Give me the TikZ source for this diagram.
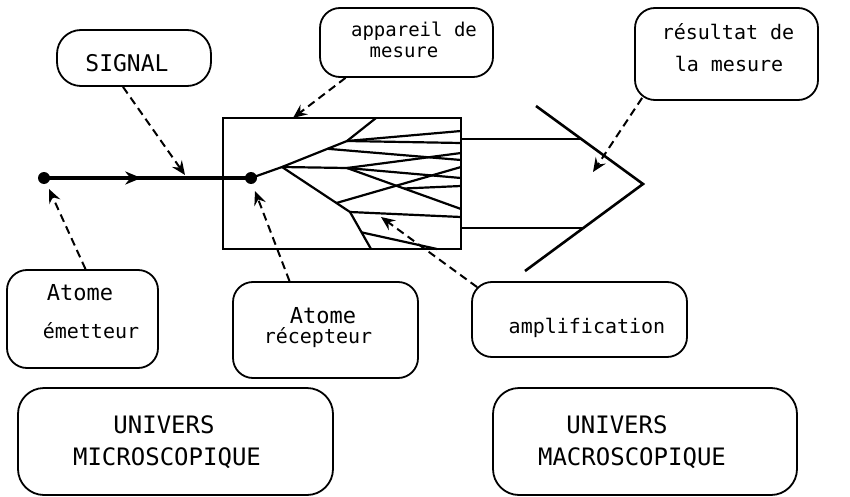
\documentclass[tikz,border=0pt]{standalone}
\usepackage{fontspec}
\setmonofont{DejaVu Sans Mono}
\usetikzlibrary{arrows.meta,decorations.markings,calc}
\begin{document}
\begin{tikzpicture}[x=1pt,y=-1pt,
  box/.style={draw,line width=1.8pt,rounded corners=20pt,inner sep=0pt},
  lc/.style={font=\ttfamily\fontsize{20}{20}\selectfont,anchor=base,inner sep=0pt},
  uc/.style={font=\ttfamily\fontsize{23}{23}\selectfont,anchor=base,inner sep=0pt},
  dsh/.style={line width=2pt,dash pattern=on 8pt off 5pt,-{Stealth[length=14pt,width=12pt,inset=5pt]}},
  trk/.style={line width=2.2pt},
  dotnode/.style={circle,fill,inner sep=0pt,minimum size=12pt},
]
\useasboundingbox (0,0) rectangle (850,497);

% label boxes
\node[box,rounded corners=24pt,minimum width=154pt,minimum height=56pt] (sig) at (134,58) {};
\node[box,minimum width=173pt,minimum height=69pt] (app) at (406.5,42.5) {};
\node[box,minimum width=183pt,minimum height=92pt] (res) at (726.5,54) {};
\node[box,minimum width=151pt,minimum height=98pt] (eme) at (82.5,319) {};
\node[box,minimum width=185pt,minimum height=96pt] (rec) at (325.5,330) {};
\node[box,minimum width=215pt,minimum height=75pt] (amp) at (579.5,319.5) {};
\node[box,rounded corners=26pt,minimum width=315pt,minimum height=107pt] (mic) at (175.5,441.5) {};
\node[box,rounded corners=26pt,minimum width=304pt,minimum height=107pt] (mac) at (645,441.5) {};

% texts
\node[uc] (tsig) at (127,72) {SIGNAL};
\node[lc,font=\ttfamily\fontsize{19}{19}\selectfont] (tapp1) at (414,37) {appareil de};
\node[lc,font=\ttfamily\fontsize{19}{19}\selectfont] (tapp2) at (404,58) {mesure};
\node[lc] (tres1) at (728,40) {résultat de};
\node[lc] (tres2) at (729,72) {la mesure};
\node[lc,font=\ttfamily\fontsize{22}{22}\selectfont] (teme1) at (80,300) {Atome};
\node[lc] (teme2) at (91,338) {émetteur};
\node[lc,font=\ttfamily\fontsize{22}{22}\selectfont] (trec1) at (323,323) {Atome};
\node[lc] (trec2) at (318,343) {récepteur};
\node[lc] (tamp) at (587,333) {amplification};
\node[uc,font=\ttfamily\fontsize{24}{24}\selectfont] (tmic1) at (164,433) {UNIVERS};
\node[uc,font=\ttfamily\fontsize{24}{24}\selectfont] (tmic2) at (167,465) {MICROSCOPIQUE};
\node[uc,font=\ttfamily\fontsize{24}{24}\selectfont] (tmac1) at (617,433) {UNIVERS};
\node[uc,font=\ttfamily\fontsize{24}{24}\selectfont] (tmac2) at (632,465) {MACROSCOPIQUE};

% measuring device
\node[draw,line width=2.2pt,minimum width=238pt,minimum height=131pt,inner sep=0pt] (dev) at (342,183.5) {};

% atoms and signal
\node[dotnode] (em) at (44,178) {};
\node[dotnode] (rc) at (251,178) {};
\draw[line width=3.8pt,postaction={decorate},
  decoration={markings,mark=at position 0.47 with {\arrow{Stealth[length=16pt,width=13pt,inset=5pt]}}}]
  (em.center) -- (rc.center);

% tracks
\coordinate (P1) at (282,167);
\coordinate (P3) at (347,141);
\coordinate (T) at (376,118);
\coordinate (B1) at (350,212);
\coordinate (B2) at (371,249);
\coordinate (A) at (347,168);
\coordinate (Q) at ($(P1)!0.7!(P3)$);
\coordinate (D) at ($(P1)!0.8!(B1)$);
\coordinate (R1) at (461,131);
\coordinate (R2) at (461,143);
\coordinate (R3) at (461,153);
\coordinate (R4) at (461,160);
\coordinate (R5) at (461,167);
\coordinate (R6) at (461,178);
\coordinate (R7) at (461,186);
\coordinate (R8) at (461,209);
\coordinate (R9) at (461,217);
\coordinate (E) at ($(A)!0.5!(R8)$);
\coordinate (F) at ($(B1)!0.55!(B2)$);
\coordinate (G) at (437,249);
\draw[trk,line join=round] (rc.center) -- (P1) -- (P3) -- (T);
\draw[trk,line join=round] (P1) -- (B1) -- (B2);
\draw[trk] (P3) -- (R1);
\draw[trk] (P3) -- (R2);
\draw[trk] (Q) -- (R4);
\draw[trk] (P1) -- (A);
\draw[trk] (A) -- (R3);
\draw[trk] (A) -- (R8);
\draw[trk] (A) -- (R6);
\draw[trk] (D) -- (R5);
\draw[trk] (E) -- (R7);
\draw[trk] (B1) -- (R9);
\draw[trk] (F) -- (G);

% output arrow (result)
\coordinate (H1a) at (461,139);
\coordinate (H1b) at (582,139);
\coordinate (H2a) at (461,228);
\coordinate (H2b) at (583,228);
\coordinate (C1) at (536,106);
\coordinate (C2) at (643,184);
\coordinate (C3) at (525,271);
\draw[line width=2pt] (H1a) -- (H1b);
\draw[line width=2pt] (H2a) -- (H2b);
\draw[line width=2.6pt,line join=miter] (C1) -- (C2) -- (C3);

% dashed pointers
\coordinate (sigT) at (185,175);
\coordinate (appT) at (293,118);
\coordinate (resT) at (593,172);
\coordinate (emeT) at (49,189);
\coordinate (recT) at (255,191);
\coordinate (ampT) at (381,217);
\draw[dsh] ([xshift=-11pt]sig.south) -- (sigT);
\draw[dsh] ([xshift=-61pt]app.south) -- (appT);
\draw[dsh] ([xshift=8pt,yshift=3pt]res.south west) -- (resT);
\draw[dsh] ([xshift=3pt]eme.north) -- (emeT);
\draw[dsh] ([xshift=-36pt]rec.north) -- (recT);
\draw[dsh] ([xshift=6pt,yshift=-6pt]amp.north west) -- (ampT);
\end{tikzpicture}
\end{document}
